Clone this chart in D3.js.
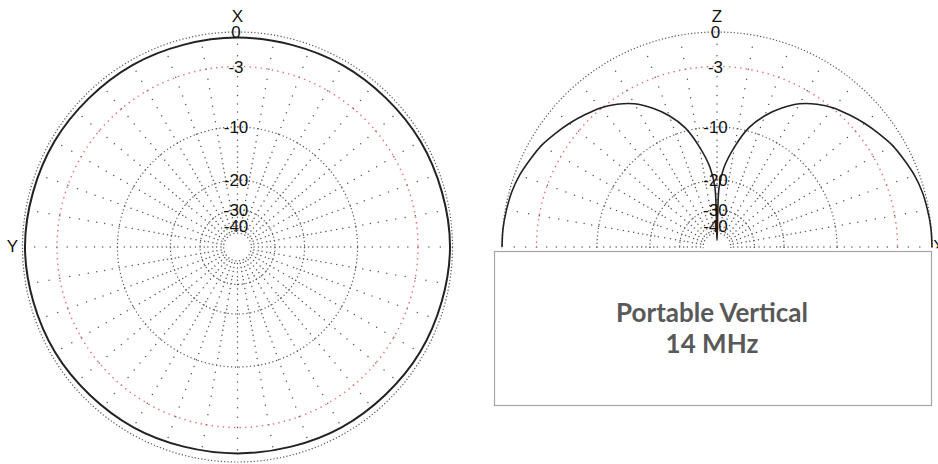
<!DOCTYPE html>
<html>
<head>
<meta charset="utf-8">
<script src="https://cdn.jsdelivr.net/npm/d3@7"></script>
<style>
  html, body { margin: 0; padding: 0; background: #fff; }
  svg { display: block; }
</style>
</head>
<body>
<svg id="chart" width="938" height="464"></svg>
<script>
// ---------- data ----------
const ringDb = [0, -3, -10, -20, -30, -47];          // drawn rings (dB)
const ringLabels = ["0", "-3", "-10", "-20", "-30", "-40"];
const ringLabelDb = [0, -3, -10, -20, -30, -40];
const spokeAngles = d3.range(0, 360, 10);             // degrees
// azimuth pattern (deg CCW from +X, gain dB)
const azAngles = [0, 30, 60, 90, 120, 150, 180, 210, 240, 270, 300, 330];
const azGain   = [-0.45, -0.4, -0.3, -0.2, -0.35, -0.55, -0.7, -0.55, -0.35, -0.2, -0.3, -0.4];
// elevation pattern (deg above horizon, gain dB)
const elevAngles = [0, 5, 10, 15, 20, 25, 30, 35, 40, 45, 50, 55, 60, 65, 70, 75, 80, 85, 88, 90];
const elevGain   = [0, -0.02, -0.1, -0.2, -0.4, -0.7, -1.0, -1.45, -1.9, -2.4, -2.9, -3.6, -4.5, -5.8, -7.4, -9.5, -12.8, -17, -22, -60];
const titleLines = ["Portable Vertical", "14 MHz"];

// ---------- layout ----------
const R = 215;
const cy = 247;
const leftCx = 237.5, rightCx = 717;
const labelFont = "'Liberation Sans', Arial, sans-serif";

const svg = d3.select("#chart");
// ARRL log scale: radius = R * 0.89^(-dB/2)  ==  R * amplitude^k
const rScale = d3.scalePow().exponent(-10 * Math.log10(0.89)).domain([0, 1]).range([0, R]);
const r = db => rScale(Math.pow(10, db / 20));
const rad = deg => deg * Math.PI / 180;

// spoke dot radii : 1 dB steps, thinned where they crowd
const innerR = r(d3.min(ringDb));
const spokeR = [];
let last = Infinity;
for (let d = -1; d >= -60; d--) {
  const rr = r(d);
  if (rr <= innerR + 1) break;
  if (last - rr >= 3.5) { spokeR.push(rr); last = rr; }
}

svg.append("defs").append("clipPath").attr("id", "upper")
  .append("rect").attr("x", rightCx - R - 10).attr("y", 0).attr("width", 2 * R + 30).attr("height", cy + 1.2);

function grid(g, cx) {
  const gg = g.append("g").attr("transform", `translate(${cx},${cy})`);
  spokeAngles.forEach(a => {
    gg.append("g").selectAll("circle").data(spokeR).join("circle")
      .attr("cx", d => d * Math.sin(rad(a)))
      .attr("cy", d => -d * Math.cos(rad(a)))
      .attr("r", 0.75)
      .attr("fill", "#555");
  });
  gg.selectAll("circle.ring").data(ringDb).join("circle")
    .attr("class", "ring")
    .attr("r", d => r(d))
    .attr("fill", "none")
    .attr("stroke", d => d === -3 ? "#f26b6b" : "#555")
    .attr("stroke-width", d => d === -3 ? 1.4 : 1.2)
    .attr("stroke-dasharray", d => d === -3 ? "1.4,4.2" : d === 0 ? "1.2,2.1" : "1.2,2.6");
  return gg;
}

function labels(gg, axisTop, sideLabel, sideX, sideAnchor) {
  gg.selectAll("text.db").data(ringLabelDb).join("text")
    .attr("class", "db")
    .attr("x", -1.5)
    .attr("y", d => -r(d))
    .attr("dy", "0.36em")
    .attr("text-anchor", "middle")
    .attr("font-family", labelFont)
    .attr("font-size", 17)
    .attr("fill", "#111")
    .text((d, i) => ringLabels[i]);
  gg.append("text")
    .attr("x", 0).attr("y", -R - 16).attr("dy", "0.36em")
    .attr("text-anchor", "middle")
    .attr("font-family", labelFont)
    .attr("font-size", 17).attr("fill", "#111")
    .text(axisTop);
  if (sideLabel) {
    gg.append("text")
      .attr("x", sideX).attr("y", -1).attr("dy", "0.36em")
      .attr("text-anchor", sideAnchor)
      .attr("font-family", labelFont)
      .attr("font-size", 17).attr("fill", "#111")
      .text(sideLabel);
  }
}

// ---------- left: azimuth ----------
const left = svg.append("g");
const lg = grid(left, leftCx);
const azLine = d3.lineRadial()
  .angle(d => -rad(d[0]))
  .radius(d => r(d[1]))
  .curve(d3.curveCatmullRomClosed.alpha(0.5));
lg.append("path")
  .datum(azAngles.map((a, i) => [a, azGain[i]]))
  .attr("d", azLine)
  .attr("fill", "none")
  .attr("stroke", "#222")
  .attr("stroke-width", 2);
labels(lg, "X", "Y", -225, "middle");

// ---------- right: elevation ----------
const right = svg.append("g").attr("clip-path", "url(#upper)");
const rg = grid(right, rightCx);
const elevPts = [];
elevAngles.forEach((e, i) => elevPts.push([90 - e, elevGain[i]]));
for (let i = elevAngles.length - 2; i >= 0; i--) elevPts.push([-(90 - elevAngles[i]), elevGain[i]]);
const elLine = d3.lineRadial()
  .angle(d => rad(d[0]))
  .radius(d => r(d[1]))
  .curve(d3.curveCatmullRom.alpha(0.5));
rg.append("path")
  .datum(elevPts)
  .attr("d", elLine)
  .attr("fill", "none")
  .attr("stroke", "#222")
  .attr("stroke-width", 1.6);
labels(rg, "Z", "X", R + 1, "start");

// ---------- caption box ----------
svg.append("rect")
  .attr("x", 494.5).attr("y", 251.5)
  .attr("width", 437).attr("height", 154)
  .attr("fill", "#fff")
  .attr("stroke", "#a6a6a6")
  .attr("stroke-width", 1.2);
svg.append("g").selectAll("text").data(titleLines).join("text")
  .attr("x", 712)
  .attr("y", (d, i) => 322 + i * 31)
  .attr("text-anchor", "middle")
  .attr("font-family", "Lato, 'Open Sans', sans-serif")
  .attr("font-weight", "bold")
  .attr("font-size", 26)
  .attr("fill", "#595959")
  .text(d => d);
</script>
</body>
</html>
